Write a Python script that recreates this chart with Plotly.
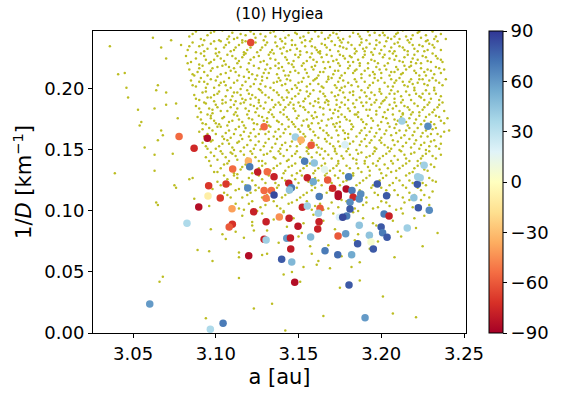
import plotly.graph_objects as go

# background asteroids: (a in 1e-3 au, 1/D in 1e-3 km^-1)
bg_245 = [(3088,247),(3097,246),(3104,248),(3115,245),(3121,247),(3133,246),(3141,248),(3149,245),(3160,247),(3171,246),
          (3175,248),(3186,245),(3192,247),(3201,246),(3209,245),(3213,248),(3222,246),(3231,247),(3127,245),(3156,246)]
bg_240 = [(3062,242),(3073,240),(3084,243),(3091,241),(3095,244),(3102,240),(3108,243),(3111,241),(3118,244),(3124,242),
          (3129,240),(3136,243),(3139,241),(3144,244),(3151,242),(3154,240),(3162,243),(3166,241),(3169,244),(3174,242),
          (3175,240),(3181,243),(3188,241),(3193,244),(3197,240),(3204,242),(3208,243),(3211,241),(3216,240),(3219,244),
          (3224,242),(3228,240),(3233,243),(3239,241),(3146,240),(3199,244),(3113,242)]
bg_230 = [(3036,235),(3067,234),(3079,236),(3083,232),(3086,238),(3090,235),(3093,231),(3097,237),(3100,233),(3103,239),
          (3106,236),(3109,231),(3112,234),(3116,238),(3119,232),(3122,236),(3125,230),(3128,234),(3131,238),(3134,232),
          (3137,235),(3140,239),(3143,231),(3146,236),(3149,233),(3152,238),(3155,230),(3158,235),(3161,232),(3164,237),
          (3167,234),(3170,239),(3174,231),(3175,235),(3176,238),(3179,233),(3182,236),(3185,231),(3188,238),(3191,234),
          (3194,230),(3197,236),(3200,232),(3203,239),(3206,234),(3208,231),(3208,237),(3211,235),(3214,232),(3217,238),
          (3220,233),(3223,236),(3226,231),(3229,237),(3232,234),(3236,232),(3118,239),(3141,234),(3162,230),(3189,233),(3227,239)]
bg_220 = [(3070,225),(3082,227),(3085,222),(3091,229),(3094,224),(3096,221),(3101,227),(3105,223),(3107,228),(3112,225),
          (3113,221),(3118,229),(3121,224),(3126,227),(3127,222),(3133,225),(3135,229),(3138,221),(3142,226),(3147,223),
          (3148,228),(3153,221),(3157,226),(3159,224),(3163,229),(3165,222),(3170,227),(3173,224),(3174,221),(3175,228),
          (3178,225),(3183,222),(3184,229),(3189,226),(3192,221),(3195,228),(3196,223),(3201,226),(3204,221),(3207,229),
          (3208,224),(3209,227),(3213,222),(3216,228),(3219,225),(3221,221),(3225,227),(3228,223),(3231,229),(3234,225),
          (3237,222),(3099,224),(3116,226),(3131,220),(3151,228),(3168,222),(3186,224),(3199,229),(3222,224),(3144,221),(3181,227)]
bg_210 = [(3041,212),(3045,213),(3084,216),(3087,211),(3092,219),(3093,214),(3098,217),(3103,212),(3104,219),(3109,215),
          (3114,211),(3115,218),(3120,214),(3123,219),(3125,211),(3130,216),(3132,213),(3136,219),(3141,215),(3142,211),
          (3147,218),(3150,213),(3154,216),(3156,210),(3160,219),(3163,214),(3166,217),(3171,212),(3174,215),(3175,219),
          (3176,211),(3180,217),(3183,213),(3187,219),(3190,215),(3193,211),(3197,218),(3200,213),(3203,216),(3205,211),
          (3208,214),(3209,218),(3212,212),(3215,216),(3218,219),(3221,213),(3224,217),(3227,211),(3230,215),(3233,218),
          (3236,213),(3238,216),(3089,214),(3111,217),(3128,210),(3145,214),(3158,218),(3168,210),(3185,216),(3195,214),
          (3214,219),(3226,214),(3101,210),(3138,217)]
bg_200 = [(3046,201),(3065,203),(3085,207),(3088,202),(3091,209),(3095,204),(3099,201),(3100,207),(3106,203),(3108,209),
          (3111,205),(3115,200),(3118,206),(3121,202),(3124,208),(3127,204),(3131,209),(3133,201),(3137,206),(3140,203),
          (3143,208),(3146,200),(3150,205),(3153,209),(3155,202),(3159,207),(3162,204),(3165,201),(3168,208),(3172,203),
          (3174,206),(3175,209),(3176,201),(3180,205),(3184,208),(3186,202),(3190,206),(3193,203),(3196,209),(3199,200),
          (3202,205),(3206,208),(3207,202),(3208,205),(3211,209),(3214,203),(3217,206),(3220,201),(3223,208),(3226,204),
          (3229,207),(3232,201),(3235,205),(3239,208),(3103,205),(3126,200),(3148,203),(3161,209),(3178,202),(3198,207),
          (3219,204),(3231,209),(3093,206),(3139,207)]
bg_190 = [(3047,193),(3064,199),(3070,197),(3087,195),(3090,191),(3094,198),(3097,193),(3101,196),(3104,191),(3107,199),
          (3110,194),(3113,197),(3116,192),(3119,199),(3122,195),(3126,191),(3128,197),(3132,193),(3135,199),(3138,195),
          (3141,191),(3144,197),(3148,194),(3151,199),(3154,192),(3157,196),(3160,190),(3163,198),(3166,194),(3170,197),
          (3173,191),(3174,195),(3175,199),(3178,193),(3181,197),(3185,191),(3188,199),(3191,194),(3194,197),(3197,191),
          (3200,196),(3203,193),(3206,199),(3208,192),(3208,196),(3212,194),(3215,198),(3218,191),(3221,196),(3224,193),
          (3227,199),(3230,192),(3233,196),(3236,194),(3099,190),(3121,192),(3143,193),(3167,191),(3183,195),(3201,190),
          (3225,196),(3112,190),(3155,198)]
bg_180 = [(3053,183),(3063,184),(3070,187),(3076,188),(3088,186),(3091,181),(3093,189),(3096,184),(3100,187),(3103,182),
          (3106,189),(3109,185),(3112,181),(3115,188),(3118,184),(3121,187),(3124,181),(3127,186),(3130,189),(3133,183),
          (3136,187),(3139,181),(3142,185),(3145,189),(3148,182),(3151,186),(3154,183),(3157,188),(3160,181),(3163,185),
          (3166,189),(3169,183),(3173,187),(3174,182),(3175,185),(3176,189),(3180,184),(3183,188),(3186,181),(3189,186),
          (3193,183),(3196,189),(3199,185),(3202,181),(3205,187),(3207,184),(3208,189),(3211,182),(3214,186),(3217,183),
          (3220,188),(3223,181),(3226,185),(3229,189),(3232,183),(3235,187),(3238,182),(3098,180),(3125,184),(3147,187),
          (3171,180),(3191,189),(3213,180),(3139,187)]
bg_170 = [(3055,173),(3077,176),(3089,177),(3092,172),(3095,179),(3099,174),(3102,171),(3105,177),(3108,173),(3111,179),
          (3114,175),(3117,170),(3120,176),(3123,172),(3126,178),(3129,174),(3132,170),(3135,177),(3138,173),(3141,179),
          (3144,175),(3147,171),(3150,178),(3153,174),(3156,170),(3159,176),(3162,172),(3165,179),(3168,175),(3171,171),
          (3174,177),(3175,173),(3176,179),(3179,175),(3182,171),(3186,177),(3189,173),(3192,178),(3195,174),(3198,170),
          (3201,177),(3204,172),(3207,179),(3208,175),(3209,171),(3212,177),(3215,173),(3218,179),(3221,175),(3224,171),
          (3227,177),(3230,173),(3233,178),(3236,174),(3240,176),(3097,176),(3131,176),(3158,178),(3184,179),(3216,170)]
bg_160 = [(3054,170),(3067,166),(3068,162),(3090,165),(3093,161),(3096,168),(3100,163),(3103,169),(3106,164),(3109,160),
          (3112,167),(3115,162),(3118,168),(3121,164),(3124,161),(3127,167),(3130,163),(3133,169),(3136,165),(3139,161),
          (3142,167),(3145,163),(3148,169),(3151,165),(3154,161),(3157,167),(3160,162),(3163,168),(3167,164),(3170,160),
          (3173,166),(3174,162),(3175,169),(3178,164),(3182,167),(3185,161),(3188,166),(3191,162),(3194,168),(3197,164),
          (3200,160),(3203,166),(3206,162),(3208,168),(3209,164),(3212,160),(3215,166),(3219,162),(3222,168),(3225,164),
          (3228,161),(3231,167),(3234,163),(3238,165),(3241,166),(3180,160)]
bg_150 = [(3057,152),(3065,158),(3092,156),(3095,151),(3098,158),(3102,153),(3105,159),(3108,155),(3111,150),(3114,157),
          (3117,152),(3121,158),(3124,154),(3127,150),(3130,156),(3134,152),(3137,159),(3140,154),(3143,150),(3146,157),
          (3149,153),(3153,158),(3156,151),(3159,156),(3162,152),(3166,159),(3169,155),(3172,151),(3174,157),(3175,153),
          (3178,159),(3181,155),(3185,150),(3188,157),(3191,153),(3194,158),(3197,151),(3200,156),(3204,152),(3207,158),
          (3208,154),(3211,150),(3215,156),(3218,152),(3221,158),(3224,154),(3227,150),(3230,157),(3233,153),(3236,155)]
bg_140 = [(3063,146),(3074,147),(3094,144),(3097,148),(3101,142),(3104,147),(3108,141),(3112,145),(3115,149),(3119,143),
          (3122,147),(3126,141),(3129,146),(3133,149),(3136,143),(3139,147),(3143,141),(3146,145),(3149,149),(3153,143),
          (3156,147),(3159,141),(3163,146),(3166,149),(3170,143),(3173,147),(3174,141),(3176,145),(3179,149),(3183,143),
          (3186,147),(3190,141),(3193,145),(3196,149),(3199,143),(3203,147),(3206,141),(3208,145),(3212,149),(3215,143),
          (3218,147),(3222,141),(3225,145),(3229,149),(3233,143),(3236,146),(3109,148)]
bg_130 = [(3039,131),(3063,133),(3097,137),(3101,132),(3105,138),(3109,134),(3113,130),(3116,136),(3120,139),(3124,133),
          (3128,137),(3131,131),(3135,135),(3139,139),(3142,133),(3146,137),(3149,131),(3153,135),(3157,139),(3160,133),
          (3164,137),(3167,131),(3171,135),(3174,139),(3175,133),(3179,137),(3183,131),(3186,135),(3190,139),(3193,133),
          (3197,137),(3200,131),(3204,135),(3207,139),(3209,133),(3213,137),(3217,131),(3220,135),(3224,139),(3228,133),(3232,136)]
bg_120 = [(3075,121),(3076,119),(3084,126),(3086,127),(3101,124),(3105,129),(3109,122),(3113,127),(3118,121),(3122,125),
          (3126,129),(3130,123),(3134,127),(3138,121),(3142,125),(3146,129),(3150,123),(3154,127),(3158,121),(3162,125),
          (3166,129),(3170,123),(3174,127),(3175,121),(3179,125),(3183,129),(3187,123),(3191,127),(3195,121),(3199,125),
          (3203,129),(3207,123),(3209,127),(3213,121),(3217,125),(3221,129),(3225,123),(3229,127),(3233,124)]
bg_110 = [(3087,110),(3098,118),(3105,115),(3109,111),(3114,118),(3119,113),(3124,117),(3128,111),(3133,115),(3137,119),
          (3142,113),(3146,117),(3151,111),(3155,115),(3160,119),(3164,113),(3169,117),(3173,111),(3175,115),(3178,119),
          (3182,113),(3187,117),(3191,111),(3196,115),(3200,119),(3205,113),(3208,117),(3213,111),(3217,115),(3222,119),
          (3226,113),(3231,116)]
bg_100 = [(3064,107),(3065,105),(3096,104),(3112,106),(3117,101),(3122,108),(3127,103),(3132,109),(3137,104),(3141,100),
          (3146,107),(3151,102),(3155,108),(3160,104),(3165,101),(3170,107),(3174,103),(3176,109),(3181,104),(3186,100),
          (3191,107),(3195,102),(3200,108),(3205,104),(3209,101),(3214,107),(3219,103),(3224,109),(3229,105)]
bg_low = [(3116,96),(3122,91),(3128,98),(3135,93),(3141,99),(3147,94),(3153,90),(3159,97),(3165,92),(3171,98),
          (3177,93),(3183,99),(3189,94),(3195,90),(3201,97),(3207,92),(3213,98),(3220,94),(3226,96),
          (3097,85),(3104,81),(3112,83),(3122,88),(3123,84),(3131,84),(3143,87),(3152,82),(3163,89),(3172,85),
          (3186,81),(3197,88),(3210,83),(3221,86),(3234,82),
          (3106,77),(3117,78),(3138,74),(3150,79),(3168,72),(3184,76),(3198,75),(3212,79),(3225,71),(3157,71),
          (3089,68),(3096,67),(3114,66),(3114,62),(3128,64),(3131,65),(3158,65),(3176,63),(3208,62),(3193,69),
          (3098,59),(3153,54),(3161,56),(3162,59),(3169,53),(3182,54),(3187,58),(3146,50),
          (3066,42),(3068,46),(3141,48),(3151,42),(3187,43),(3114,45),
          (3175,37),(3134,24),(3094,12),(3165,14),(3207,16),(3221,13),(3142,2),(3201,30),(3123,20)]
# second pass over the dense core of the cloud
bg_core_hi = [(3086,245),(3093,240),(3099,247),(3107,241),(3110,246),(3116,240),(3123,245),(3130,243),(3135,247),(3142,242),
              (3148,246),(3153,243),(3158,241),(3164,246),(3168,242),(3173,245),(3177,241),(3183,246),(3187,243),(3191,240),
              (3196,246),(3202,244),(3206,241),(3210,246),(3215,243),(3218,241),(3223,247),(3227,244),(3232,241),(3236,245),
              (3084,235),(3088,230),(3092,236),(3095,233),(3099,239),(3102,230),(3105,234),(3108,238),(3111,232),(3114,236),
              (3117,230),(3121,234),(3124,238),(3127,232),(3130,236),(3133,230),(3136,238),(3139,233),(3142,237),(3145,232),
              (3148,236),(3151,231),(3154,235),(3157,239),(3160,234),(3163,231),(3166,236),(3169,232),(3172,236),(3177,234),
              (3180,238),(3184,233),(3187,236),(3190,231),(3193,237),(3196,233),(3199,238),(3202,235),(3205,231),(3210,238),
              (3213,234),(3216,231),(3219,236),(3222,231),(3225,235),(3228,232),(3231,236),(3234,239),
              (3083,221),(3088,225),(3090,220),(3093,227),(3097,222),(3100,229),(3103,225),(3106,220),(3110,227),(3114,223),
              (3117,228),(3120,221),(3123,226),(3129,223),(3132,228),(3136,224),(3140,229),(3143,224),(3146,220),(3150,226),
              (3155,223),(3158,229),(3161,222),(3164,226),(3167,228),(3171,223),(3177,227),(3180,222),(3182,226),(3187,221),
              (3190,228),(3194,224),(3198,221),(3202,228),(3205,225),(3211,223),(3214,226),(3218,222),(3220,228),(3224,221),
              (3227,226),(3230,222),(3233,227),(3236,224),
              (3086,212),(3090,217),(3095,211),(3097,215),(3101,218),(3106,213),(3108,218),(3112,214),(3117,210),(3119,216),
              (3122,212),(3126,217),(3129,213),(3133,217),(3137,212),(3140,218),(3144,211),(3148,215),(3152,219),(3155,213),
              (3159,216),(3162,211),(3165,214),(3169,218),(3172,215),(3178,213),(3181,219),(3184,215),(3188,212),(3192,217),
              (3196,212),(3199,216),(3202,219),(3206,214),(3210,216),(3213,213),(3217,218),(3220,215),(3223,211),(3228,216),
              (3232,212),(3235,217),
              (3086,203),(3090,206),(3094,201),(3097,208),(3102,203),(3105,206),(3109,201),(3113,207),(3116,203),(3120,209),
              (3123,204),(3128,207),(3130,202),(3135,205),(3138,209),(3142,204),(3145,207),(3149,201),(3152,206),(3157,204),
              (3160,208),(3164,202),(3167,206),(3170,209),(3173,201),(3177,207),(3182,203),(3185,206),(3188,209),(3192,201),
              (3195,205),(3200,209),(3204,202),(3209,207),(3213,206),(3216,202),(3218,208),(3222,205),(3225,208),(3228,203),
              (3233,207),(3237,203)]
bg_core_mid = [(3088,192),(3092,197),(3095,193),(3099,195),(3102,198),(3106,194),(3109,191),(3111,197),(3115,195),(3118,191),
               (3120,196),(3124,193),(3127,199),(3130,195),(3134,191),(3137,197),(3140,193),(3143,199),(3146,192),(3150,196),
               (3153,190),(3156,194),(3159,199),(3162,192),(3165,196),(3168,190),(3172,194),(3177,197),(3180,191),(3183,198),
               (3187,193),(3190,197),(3193,192),(3196,195),(3199,198),(3202,191),(3205,196),(3210,198),(3213,191),(3217,195),
               (3220,199),(3223,194),(3226,191),(3229,196),(3232,199),(3235,191),
               (3090,184),(3094,188),(3098,183),(3101,185),(3104,188),(3107,182),(3111,187),(3113,184),(3117,189),(3120,182),
               (3123,186),(3126,189),(3129,184),(3132,181),(3135,185),(3138,189),(3141,183),(3144,187),(3147,184),(3150,189),
               (3153,185),(3156,181),(3159,186),(3162,189),(3165,184),(3168,187),(3172,183),(3178,187),(3181,182),(3184,185),
               (3188,189),(3191,183),(3194,187),(3197,182),(3200,188),(3204,183),(3209,186),(3212,189),(3216,185),(3219,181),
               (3222,186),(3225,183),(3228,187),(3231,181),(3234,185),(3237,189),
               (3091,175),(3094,171),(3097,178),(3100,172),(3104,176),(3107,170),(3110,174),(3113,178),(3116,173),(3119,179),
               (3122,175),(3125,171),(3128,177),(3131,173),(3134,179),(3137,174),(3140,171),(3143,177),(3146,173),(3149,176),
               (3152,170),(3155,175),(3158,172),(3161,177),(3164,174),(3167,170),(3170,176),(3173,172),(3178,177),(3181,174),
               (3185,179),(3188,175),(3191,171),(3194,176),(3197,179),(3200,173),(3203,176),(3210,174),(3213,179),(3217,176),
               (3220,172),(3223,178),(3226,174),(3229,179),(3232,171),(3235,177),(3238,172),
               (3092,167),(3095,163),(3098,166),(3101,169),(3104,161),(3108,166),(3111,163),(3114,169),(3117,165),(3120,161),
               (3123,167),(3126,163),(3129,169),(3132,165),(3135,161),(3138,167),(3141,164),(3144,169),(3147,161),(3150,167),
               (3153,163),(3156,169),(3159,165),(3162,160),(3165,166),(3168,162),(3172,169),(3177,166),(3180,163),(3183,169),
               (3187,164),(3190,168),(3193,165),(3196,161),(3199,167),(3202,163),(3205,169),(3211,166),(3214,162),(3217,168),
               (3220,165),(3224,161),(3227,166),(3230,163),(3233,168),(3236,161)]
bg_core_lo = [(3094,153),(3097,157),(3100,151),(3104,155),(3107,158),(3110,152),(3113,156),(3116,159),(3119,154),(3123,151),
              (3126,157),(3129,153),(3132,159),(3136,155),(3139,151),(3142,156),(3145,153),(3148,159),(3151,155),(3155,152),
              (3158,158),(3161,154),(3164,151),(3167,157),(3171,153),(3177,155),(3180,151),(3183,157),(3187,154),(3190,159),
              (3193,156),(3196,152),(3199,158),(3202,154),(3206,151),(3210,157),(3213,153),(3217,159),(3220,155),(3223,151),
              (3226,156),(3229,153),(3232,158),(3235,151),
              (3096,141),(3099,145),(3103,149),(3106,144),(3110,147),(3113,142),(3117,146),(3121,149),(3124,144),(3128,141),
              (3131,147),(3135,144),(3138,149),(3141,145),(3144,142),(3148,147),(3151,144),(3155,149),(3158,144),(3161,148),
              (3165,143),(3168,146),(3172,149),(3177,143),(3181,146),(3185,142),(3188,148),(3191,144),(3195,147),(3198,141),
              (3201,145),(3205,149),(3210,142),(3214,146),(3217,141),(3220,148),(3224,143),(3227,147),(3231,145),
              (3099,132),(3103,135),(3107,139),(3111,131),(3115,134),(3118,138),(3122,131),(3126,135),(3130,139),(3133,133),
              (3137,137),(3141,131),(3144,136),(3148,139),(3151,133),(3155,137),(3159,131),(3162,135),(3166,139),(3169,133),
              (3173,137),(3177,131),(3181,135),(3185,139),(3188,132),(3192,136),(3195,139),(3199,134),(3202,138),(3206,132),
              (3211,135),(3215,139),(3219,132),(3222,137),(3226,134),(3230,138),
              (3103,121),(3107,126),(3111,129),(3116,124),(3120,127),(3124,121),(3128,126),(3132,129),(3136,123),(3140,127),
              (3144,121),(3148,126),(3152,129),(3156,124),(3160,127),(3164,121),(3168,125),(3172,129),(3177,124),(3181,127),
              (3185,121),(3189,125),(3193,129),(3197,123),(3201,127),(3205,121),(3211,125),(3215,129),(3219,123),(3223,127),
              (3227,121),(3231,125),
              (3107,113),(3112,117),(3116,111),(3121,115),(3126,119),(3131,113),(3135,117),(3140,111),(3144,115),(3149,119),
              (3153,113),(3158,117),(3162,111),(3167,115),(3171,119),(3180,117),(3185,111),(3189,115),(3194,119),(3198,113),
              (3203,117),(3210,113),(3215,119),(3220,113),(3224,117),(3229,111),
              (3114,102),(3120,106),(3125,100),(3130,105),(3135,108),(3139,102),(3144,106),(3149,109),(3158,101),(3163,106),
              (3168,102),(3179,108),(3184,102),(3189,105),(3198,103),(3203,107),(3212,102),(3217,109),(3222,104)]

# family members with colour value
fam_a = [3.1211, 3.1292, 3.0778, 3.0949, 3.0869, 3.1197, 3.1205, 3.1102, 3.1253, 3.1311,
         3.1352, 3.0957, 3.1062, 3.1193, 3.1292, 3.1336, 3.1352, 3.1304, 3.0953, 3.1027,
         3.0897, 3.1098, 3.1229, 3.1304, 3.1100, 3.1081, 3.0826, 3.1292, 3.1304, 3.1199,
         3.0601, 3.1044, 3.0967, 3.1553, 3.1589, 3.1676, 3.1803, 3.1441, 3.1457, 3.1445,
         3.1706, 3.1788, 3.1823, 3.1740, 3.1740, 3.1830, 3.1876, 3.1867, 3.1976, 3.2218,
         3.2220, 3.1625, 3.1811, 3.1811, 3.2032, 3.2197, 3.2224, 3.2290, 3.1523, 3.1553,
         3.1630, 3.1620, 3.1384, 3.1443, 3.1624, 3.1747, 3.1791, 3.1767, 3.2017, 3.2047,
         3.1497, 3.1616, 3.1867, 3.1999, 3.2157, 3.2008, 3.1928, 3.2035, 3.1785, 3.1739,
         3.1573, 3.1429, 3.1451, 3.1453, 3.1857, 3.1938, 3.1952, 3.1660, 3.1737, 3.1821,
         3.1398, 3.1459, 3.1477, 3.1805, 3.1902, 3.2125, 3.2282, 3.1481, 3.1515, 3.1576,
         3.1781, 3.1537, 3.1595, 3.1657, 3.2259, 3.2235]
fam_invd = [0.2380, 0.1690, 0.1610, 0.1596, 0.1514, 0.1410, 0.1363, 0.1344, 0.1320, 0.1322,
            0.1280, 0.1207, 0.1221, 0.1189, 0.1167, 0.1167, 0.1131, 0.1104, 0.1123, 0.1107,
            0.1033, 0.1019, 0.0994, 0.0912, 0.0891, 0.0869, 0.0899, 0.0768, 0.0762, 0.0634,
            0.0238, 0.0079, 0.0030, 0.1273, 0.1240, 0.1254, 0.1280, 0.1227, 0.1191, 0.1172,
            0.1186, 0.1180, 0.1167, 0.1139, 0.1118, 0.1112, 0.1139, 0.1098, 0.1221, 0.1219,
            0.1280, 0.1118, 0.1071, 0.1016, 0.1125, 0.1109, 0.1027, 0.1006, 0.1030, 0.1041,
            0.1022, 0.0981, 0.0951, 0.0940, 0.0912, 0.0948, 0.0959, 0.0948, 0.0975, 0.0959,
            0.0874, 0.0852, 0.0883, 0.0869, 0.0861, 0.0822, 0.0801, 0.0784, 0.0814, 0.0795,
            0.0787, 0.0776, 0.0779, 0.0689, 0.0732, 0.0746, 0.0689, 0.0675, 0.0642, 0.0642,
            0.0604, 0.0582, 0.0416, 0.0393, 0.0126, 0.1738, 0.1694, 0.1607, 0.1582, 0.1538,
            0.1543, 0.1407, 0.1393, 0.1339, 0.1375, 0.1273]
fam_val = [-65, -55, -55, -85, -75, -35, 70, -55, -80, -55,
           -78, -70, -70, 65, -55, -55, 85, -50, -10, -70,
           -85, -40, -78, -78, -72, -60, 35, -78, 40, -85,
           60, 70, 35, -78, 55, -60, 70, -78, 70, 45,
           -75, -85, 70, -85, -85, -75, 65, 65, 80, 80,
           40, 70, 65, 80, 80, 45, 80, 65, -78, 40,
           -60, 40, -45, -78, -78, 20, 70, 85, 70, -78,
           -82, -78, 45, 80, 40, 70, 45, 80, 60, -60,
           50, 60, -80, -80, 80, 5, 80, 70, 75, 55,
           80, 50, -85, 80, 60, 40, 65, 40, -35, -60,
           20, 70, 45, 15, 40, 40]

x_ticks = [3.05, 3.10, 3.15, 3.20, 3.25]
y_ticks = [0.00, 0.05, 0.10, 0.15, 0.20]
cb_ticks = [-90, -60, -30, 0, 30, 60, 90]

bands = [bg_245, bg_240, bg_230, bg_220, bg_210, bg_200, bg_190, bg_180, bg_170,
         bg_160, bg_150, bg_140, bg_130, bg_120, bg_110, bg_100, bg_low,
         bg_core_hi, bg_core_mid, bg_core_lo]
bg_a = [p[0] / 1000 for b in bands for p in b]
bg_invd = [p[1] / 1000 for b in bands for p in b]

font = 'DejaVu Sans'
fig = go.Figure()

fig.add_trace(go.Scatter(
    x=bg_a, y=bg_invd, mode='markers',
    marker=dict(color='#bcbd22', size=2.5, line=dict(width=0)),
    showlegend=False, hoverinfo='skip',
))

fig.add_trace(go.Scatter(
    x=fam_a, y=fam_invd, mode='markers',
    marker=dict(
        color=fam_val, colorscale='RdYlBu', cmin=-90, cmax=90, size=7.5,
        line=dict(width=0),
        colorbar=dict(
            thickness=14, len=1, lenmode='fraction', y=0.5, yanchor='middle',
            x=1.0617, xanchor='left', xpad=0, ypad=0,
            outlinewidth=1, outlinecolor='black',
            ticks='outside', ticklen=4, tickcolor='black',
            tickvals=cb_ticks,
            tickfont=dict(family=font, size=18, color='black'),
        ),
    ),
    showlegend=False,
))

axis_common = dict(
    showline=True, linecolor='black', linewidth=1, mirror=True,
    ticks='outside', ticklen=4, tickcolor='black', showgrid=False, zeroline=False,
    tickfont=dict(family=font, size=18, color='black'),
)

fig.update_xaxes(
    range=[3.0258, 3.2512], tickvals=x_ticks, tickformat='.2f',
    title=dict(text='a [au]', font=dict(family=font, size=21, color='black'), standoff=6),
    **axis_common,
)
fig.update_yaxes(
    range=[0, 0.2475], tickvals=y_ticks, tickformat='.2f',
    title=dict(text='1/<i>D</i> [km<sup>\u22121</sup>]', font=dict(family=font, size=21, color='black'), standoff=6),
    **axis_common,
)

fig.update_layout(
    width=565, height=399,
    margin=dict(l=93, r=99, t=31, b=66),
    paper_bgcolor='white', plot_bgcolor='white',
    title=dict(text='(10) Hygiea', x=0.5, xref='paper', xanchor='center',
               y=1 - 14 / 399, yref='container', yanchor='middle',
               font=dict(family=font, size=15, color='black')),
)

# drop the browser's default page margin so the figure sits at the window corner
fig.write_html("out.html", config={'displayModeBar': False},
               post_script="document.body.style.margin='0px';")
